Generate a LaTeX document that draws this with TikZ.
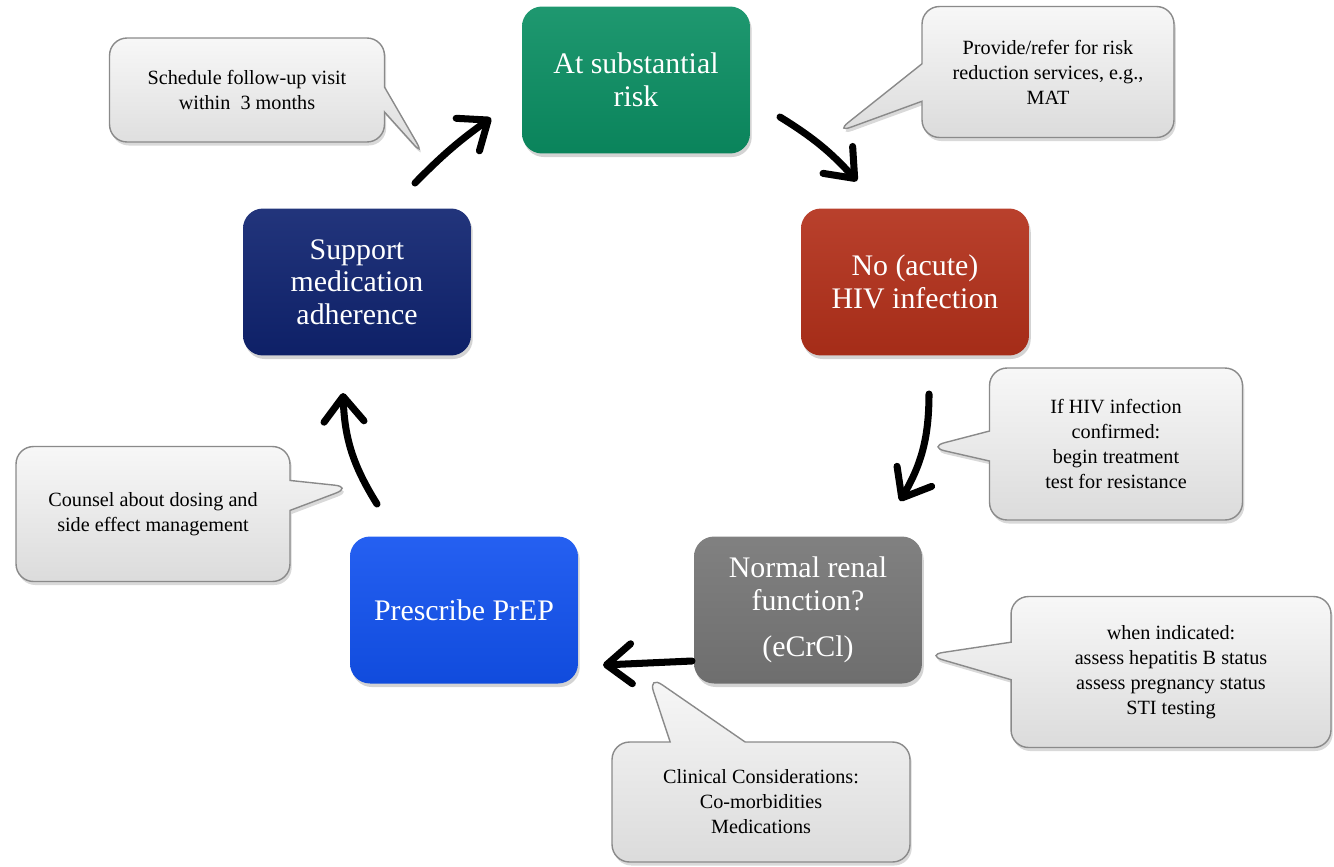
\documentclass[tikz,border=0pt]{standalone}
\usepackage{xcolor}
\usepackage{fontspec}
\setmainfont{Liberation Serif}
\usepackage{tikz}
\usetikzlibrary{positioning,shapes.callouts,shadows,arrows.meta}

\definecolor{riskgreen}{HTML}{0B8F63}
\definecolor{hivred}{HTML}{B3301A}
\definecolor{renalgray}{HTML}{7A7A7A}
\definecolor{prepblue}{HTML}{1252F0}
\definecolor{adhnavy}{HTML}{0F2370}
\definecolor{noteedge}{HTML}{8A8A8A}

\begin{document}
\begin{tikzpicture}[x=0.02cm, y=-0.02cm,
    stepbox/.style={rectangle, rounded corners=0.4cm, minimum width=4.56cm, minimum height=2.94cm,
      text=white, align=center, font=\fontsize{17}{18.5}\selectfont,
      drop shadow={shadow xshift=1pt, shadow yshift=-2pt, opacity=0.35}},
    notebox/.style={rectangle callout, rounded corners=0.35cm, draw=noteedge, line width=0.8pt,
      top color=gray!6, bottom color=gray!28, align=center, font=\fontsize{11.5}{14.2}\selectfont,
      callout pointer width=0.6cm,
      drop shadow={shadow xshift=1pt, shadow yshift=-2pt, opacity=0.3}},
    turnarrow/.style={line width=4pt, line cap=round, -{Straight Barb[length=0.5cm, width=0.8cm, round]}}]

    \useasboundingbox (0,0) rectangle (1334,866);

    \coordinate (A1S) at (415,183);
    \coordinate (A1E) at (491,118);
    \coordinate (A2S) at (780,117);
    \coordinate (A2E) at (857,181);
    \coordinate (A3S) at (929,394);
    \coordinate (A3E) at (900,501);
    \coordinate (A4S) at (692,661);
    \coordinate (A4E) at (603,665);
    \coordinate (A5S) at (377,504);
    \coordinate (A5E) at (343,393);

    \coordinate (FollowupTip) at (425,157);
    \coordinate (ReduceTip) at (835,133);
    \coordinate (ConfirmTip) at (928,447);
    \coordinate (IndicatedTip) at (926,655);
    \coordinate (ClinicalTip) at (648,675);
    \coordinate (CounselTip) at (352,487);

    \node [stepbox, top color=riskgreen!92!white, bottom color=riskgreen!92!black] (Risk) at (636,80) {At substantial\\risk};
    \node [stepbox, top color=hivred!92!white, bottom color=hivred!92!black] (NoHIV) at (915,282) {No (acute)\\HIV infection};
    \node [stepbox, top color=renalgray!95!white, bottom color=renalgray!90!black] (Renal) at (808,610) {Normal renal\\function?\\[8pt](eCrCl)};
    \node [stepbox, top color=prepblue!92!white, bottom color=prepblue!92!black] (PrEP) at (464,610) {Prescribe PrEP};
    \node [stepbox, top color=adhnavy!92!white, bottom color=adhnavy!92!black] (Adher) at (357,282) {Support\\medication\\adherence};

    \node [notebox, minimum width=5.5cm, minimum height=2.08cm, callout pointer width=0.5cm, callout absolute pointer={(FollowupTip)}] (Followup) at (247,90) {Schedule follow-up visit\\within\ \ 3 months};
    \node [notebox, minimum width=5.04cm, minimum height=2.62cm, callout pointer width=0.75cm, callout absolute pointer={(ReduceTip)}] (Reduce) at (1048,72) {Provide/refer for risk\\reduction services, e.g.,\\MAT};
    \node [notebox, minimum width=5.06cm, minimum height=3.04cm, callout absolute pointer={(ConfirmTip)}] (Confirm) at (1116,444) {If HIV infection\\confirmed:\\begin treatment\\test for resistance};
    \node [notebox, minimum width=6.4cm, minimum height=3.02cm, callout pointer width=0.75cm, callout absolute pointer={(IndicatedTip)}] (Indicated) at (1171,672) {when indicated:\\assess hepatitis B status\\assess pregnancy status\\STI testing};
    \node [notebox, minimum width=5.96cm, minimum height=2.4cm, callout pointer width=1.5cm, callout absolute pointer={(ClinicalTip)}] (Clinical) at (761,802) {Clinical Considerations:\\Co-morbidities\\Medications};
    \node [notebox, minimum width=5.48cm, minimum height=2.7cm, callout absolute pointer={(CounselTip)}] (Counsel) at (153,514) {Counsel about dosing and\\side effect management};

    \draw [turnarrow] (A1S) to[bend left=5] (A1E);
    \draw [turnarrow] (A2S) to[bend left=8] (A2E);
    \draw [turnarrow] (A3S) to[bend left=15] (A3E);
    \draw [turnarrow] (A4S) to (A4E);
    \draw [turnarrow] (A5S) to[bend left=15] (A5E);
\end{tikzpicture}
\end{document}
